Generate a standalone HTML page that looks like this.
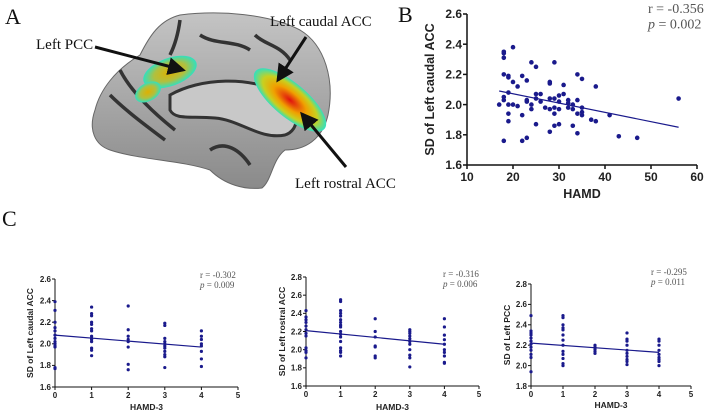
<!DOCTYPE html>
<html><head><meta charset="utf-8"><style>
body{margin:0;background:#fff;}
svg{display:block;}
.tk{font-family:"Liberation Sans",sans-serif;font-weight:bold;fill:#222;}
.st{font-family:"Liberation Serif",serif;fill:#555;}
.lb{font-family:"Liberation Serif",serif;fill:#111;}
</style></head><body>
<svg id="fig" width="704" height="412" viewBox="0 0 704 412" xmlns="http://www.w3.org/2000/svg">
<defs>
<radialGradient id="hot" cx="50%" cy="50%" r="50%"><stop offset="0" stop-color="#e01010"/><stop offset="0.45" stop-color="#f0a000"/><stop offset="0.75" stop-color="#c8d020"/><stop offset="1" stop-color="#30e0c0"/></radialGradient>
<radialGradient id="pcc" cx="50%" cy="50%" r="50%"><stop offset="0" stop-color="#e0b000"/><stop offset="0.6" stop-color="#b0c040"/><stop offset="1" stop-color="#30e0c0"/></radialGradient>
<linearGradient id="brainG" x1="0" y1="0" x2="0" y2="1"><stop offset="0" stop-color="#c4c4c4"/><stop offset="1" stop-color="#8a8a8a"/></linearGradient>
<marker id="ah" markerWidth="6" markerHeight="6" refX="5" refY="3" orient="auto"><path d="M0,0 L6,3 L0,6 z" fill="#111"/></marker>
</defs>
<g>
<path d="M180,15 C220,10 270,14 300,30 C325,45 335,80 328,115 C322,140 305,150 285,150 C272,160 272,180 262,188 C245,190 225,185 210,170 C180,160 140,160 110,150 C95,145 88,130 95,110 C100,90 115,70 140,55 C150,35 160,20 180,15 Z" fill="url(#brainG)" stroke="#666" stroke-width="1"/>
<path d="M170,95 C200,78 250,75 285,95 C300,110 300,130 285,135 C260,140 240,120 215,118 C190,116 175,120 170,110 Z" fill="#c8c8c8" stroke="#333" stroke-width="3"/>
<path d="M120,70 C130,90 150,110 175,130 M110,95 C125,110 145,125 165,140 M180,20 C178,35 175,45 170,55 M210,150 C225,140 240,150 250,165 M200,35 C215,45 235,40 250,50 M255,35 C265,45 280,45 290,60" stroke="#333" stroke-width="3.5" fill="none"/>
<ellipse cx="170" cy="72" rx="28" ry="14" transform="rotate(-20 170 72)" fill="url(#pcc)"/>
<ellipse cx="148" cy="92" rx="14" ry="9" transform="rotate(-30 148 92)" fill="url(#pcc)"/>
<ellipse cx="290" cy="100" rx="45" ry="17" transform="rotate(40 290 100)" fill="url(#hot)"/>
<line x1="95" y1="47" x2="183" y2="70" stroke="#111" stroke-width="3" marker-end="url(#ah)"/>
<line x1="306" y1="37" x2="278" y2="80" stroke="#111" stroke-width="3" marker-end="url(#ah)"/>
<line x1="346" y1="167" x2="302" y2="114" stroke="#111" stroke-width="3" marker-end="url(#ah)"/>
<text class="lb" x="5" y="24" font-size="22">A</text>
<text class="lb" x="36" y="49" font-size="15">Left PCC</text>
<text class="lb" x="270" y="26" font-size="15">Left caudal ACC</text>
<text class="lb" x="295" y="188" font-size="15">Left rostral ACC</text>
<text class="lb" x="2" y="226" font-size="22">C</text>
<text class="lb" x="398" y="22" font-size="22">B</text>
</g>
<g id="charts"></g>
</svg>
<script>
// Panel B data
const bX = [17,18,18,18,18,18,18,18,19,19,19,19,19,19,20,20,20,21,21,22,22,22,23,23,23,23,24,24,24,25,25,25,25,26,26,27,28,28,28,28,28,29,29,29,29,29,30,30,30,30,31,31,32,32,32,33,33,33,34,34,34,34,35,35,35,35,37,38,38,41,43,47,56];
const bY = [2.0,2.35,2.34,2.31,2.2,2.05,2.03,1.76,2.19,2.18,2.08,2.0,1.94,1.89,2.38,2.15,2.0,2.12,1.99,2.19,1.93,1.76,2.16,2.03,2.02,1.78,2.28,2.0,1.97,2.25,2.07,2.04,1.87,2.07,2.02,1.98,2.15,2.14,2.04,1.97,1.82,2.28,2.04,1.98,1.94,1.86,2.06,2.02,1.97,1.87,2.13,2.07,2.03,2.01,1.98,2.0,1.97,1.86,2.2,2.03,1.94,1.81,2.17,1.98,1.95,1.93,1.9,2.12,1.89,1.93,1.79,1.78,2.04];
const bFitX = [17,56];
const bFitY = [2.09,1.85];
const bXTicks = [10,20,30,40,50,60];
const bYTicks = ["1.6","1.8","2.0","2.2","2.4","2.6"];
// Panel C data (grouped by HAMD-3 score 0..4)
const c1Groups = [[2.39,2.31,2.2,2.15,2.12,2.08,2.05,2.02,2.0,1.98,1.97,1.78,1.77],[2.34,2.28,2.26,2.2,2.18,2.14,2.12,2.07,2.05,2.04,2.02,1.96,1.94,1.89],[2.35,2.13,2.07,2.04,2.02,1.97,1.81,1.76],[2.19,2.17,2.05,2.02,2.0,1.98,1.96,1.93,1.9,1.88,1.78],[2.12,2.07,2.04,2.0,1.98,1.93,1.86,1.79]];
const c1Fit = [2.08,1.97];
const c1YTicks = ["1.6","1.8","2.0","2.2","2.4","2.6"];
const c2Groups = [[2.43,2.36,2.33,2.3,2.26,2.22,2.18,2.15,2.02,1.99,1.97,1.91],[2.55,2.53,2.43,2.4,2.37,2.33,2.3,2.27,2.25,2.2,2.17,2.14,2.09,2.02,1.99,1.97,1.93],[2.34,2.2,2.14,2.04,2.03,1.93,1.91],[2.22,2.2,2.18,2.15,2.12,2.09,2.06,2.0,1.94,1.91,1.81],[2.34,2.25,2.16,2.11,2.06,2.0,1.97,1.93,1.86,1.85]];
const c2Fit = [2.21,2.06];
const c2YTicks = ["1.6","1.8","2.0","2.2","2.4","2.6","2.8"];
const c3Groups = [[2.49,2.34,2.32,2.3,2.27,2.24,2.21,2.18,2.15,2.11,2.08,1.94],[2.49,2.47,2.4,2.37,2.35,2.3,2.25,2.2,2.14,2.11,2.07,2.02,2.0],[2.2,2.18,2.16,2.14,2.12],[2.32,2.26,2.24,2.2,2.15,2.12,2.09,2.06,2.04,2.01],[2.26,2.24,2.2,2.15,2.11,2.08,2.06,2.04,2.0]];
const c3Fit = [2.22,2.13];
const c3YTicks = ["1.8","2.0","2.2","2.4","2.6","2.8"];
const cXTicks = [0,1,2,3,4,5];

const NS="http://www.w3.org/2000/svg";
const root=document.getElementById('charts');
function mk(tag,attrs,parent){const e=document.createElementNS(NS,tag);for(const k in attrs)e.setAttribute(k,attrs[k]);(parent||root).appendChild(e);return e;}

function chart(o){
  const g=mk('g',{});
  
  
  const sx=v=>o.x0+(v-o.xmin)/(o.xmax-o.xmin)*(o.x1-o.x0);
  const sy=v=>o.y0-(v-o.ymin)/(o.ymax-o.ymin)*(o.y0-o.y1);
  const ax=mk('path',{d:`M${o.x0},${o.y1} V${o.y0} H${o.x1}`,stroke:'#111','stroke-width':o.sw,fill:'none'},g);
  
  
  o.yTicks.forEach(t=>{const v=parseFloat(t),y=sy(v);
    mk('line',{x1:o.x0-o.tl,x2:o.x0,y1:y,y2:y,stroke:'#111','stroke-width':o.sw},g);
    const tx=mk('text',{x:o.x0-o.tl-1,y:y+o.fs*0.35,'text-anchor':'end','font-size':o.fs,class:'tk'},g);tx.textContent=t;
    
    });
  o.xTicks.forEach(t=>{const x=sx(t);
    mk('line',{x1:x,x2:x,y1:o.y0,y2:o.y0+o.tl,stroke:'#111','stroke-width':o.sw},g);
    const tx=mk('text',{x:x,y:o.y0+o.tl+o.fs,'text-anchor':'middle','font-size':o.fs,class:'tk'},g);tx.textContent=t;
    
    });
  o.pts.forEach(p=>{const c=mk('circle',{cx:sx(p[0]),cy:sy(p[1]),r:o.r,fill:'#1a1a8c'},g);
    
    });
  const fl=mk('line',{x1:sx(o.fit[0]),y1:sy(o.fit[1]),x2:sx(o.fit[2]),y2:sy(o.fit[3]),stroke:'#1a1a8c','stroke-width':1.2},g);
  
  
  const yl=mk('text',{x:0,y:0,transform:`translate(${o.ylx},${(o.y0+o.y1)/2}) rotate(-90)`,'text-anchor':'middle','font-size':o.lfs,class:'tk'},g);yl.textContent=o.ylabel;
  
  
  const xl=mk('text',{x:(o.x0+o.x1)/2,y:o.xly,'text-anchor':'middle','font-size':o.lfs,class:'tk'},g);xl.textContent=o.xlabel;
  
  
  const s1=mk('text',{x:o.sx,y:o.sy,'font-size':o.sfs,class:'st'},g);s1.textContent=o.r1;
  
  
  const s2=mk('text',{x:o.sx,y:o.sy+o.sfs*1.1,'font-size':o.sfs,class:'st'},g);
  const it=mk('tspan',{'font-style':'italic'},s2);it.textContent='p';
  const rest=mk('tspan',{},s2);rest.textContent=' = '+o.p;
  
  
}
function grp(G){const a=[];G.forEach((ys,i)=>ys.forEach(y=>a.push([i,y])));return a;}

chart({name:'chart-b',x0:467,x1:697,y0:165,y1:14,xmin:10,xmax:60,ymin:1.6,ymax:2.6,xTicks:bXTicks,yTicks:bYTicks,
  pts:bX.map((x,i)=>[x,bY[i]]),fit:[bFitX[0],bFitY[0],bFitX[1],bFitY[1]],r:2.3,sw:1.5,tl:4,fs:12,lfs:12.5,
  ylabel:'SD of Left caudal ACC',xlabel:'HAMD',ylx:434,xly:198,sx:648,sy:13,sfs:14,r1:'r = -0.356',p:'0.002'});
chart({name:'chart-c-caudal-acc',x0:55,x1:238,y0:387,y1:279,xmin:0,xmax:5,ymin:1.6,ymax:2.6,xTicks:cXTicks,yTicks:c1YTicks,
  pts:grp(c1Groups),fit:[0,c1Fit[0],4,c1Fit[1]],r:1.6,sw:1,tl:3,fs:8,lfs:8.5,
  ylabel:'SD of Left caudal ACC',xlabel:'HAMD-3',ylx:33,xly:410,sx:200,sy:278,sfs:9,r1:'r = -0.302',p:'0.009'});
chart({name:'chart-c-rostral-acc',x0:306,x1:479,y0:386,y1:277,xmin:0,xmax:5,ymin:1.6,ymax:2.8,xTicks:cXTicks,yTicks:c2YTicks,
  pts:grp(c2Groups),fit:[0,c2Fit[0],4,c2Fit[1]],r:1.6,sw:1,tl:3,fs:8,lfs:8.5,
  ylabel:'SD of Left rostral ACC',xlabel:'HAMD-3',ylx:285,xly:410,sx:443,sy:277,sfs:9,r1:'r = -0.316',p:'0.006'});
chart({name:'chart-c-pcc',x0:531,x1:691,y0:386,y1:284,xmin:0,xmax:5,ymin:1.8,ymax:2.8,xTicks:cXTicks,yTicks:c3YTicks,
  pts:grp(c3Groups),fit:[0,c3Fit[0],4,c3Fit[1]],r:1.6,sw:1,tl:3,fs:8,lfs:8.5,
  ylabel:'SD of Left PCC',xlabel:'HAMD-3',ylx:510,xly:408,sx:651,sy:275,sfs:9,r1:'r = -0.295',p:'0.011'});
</script>
</body></html>
